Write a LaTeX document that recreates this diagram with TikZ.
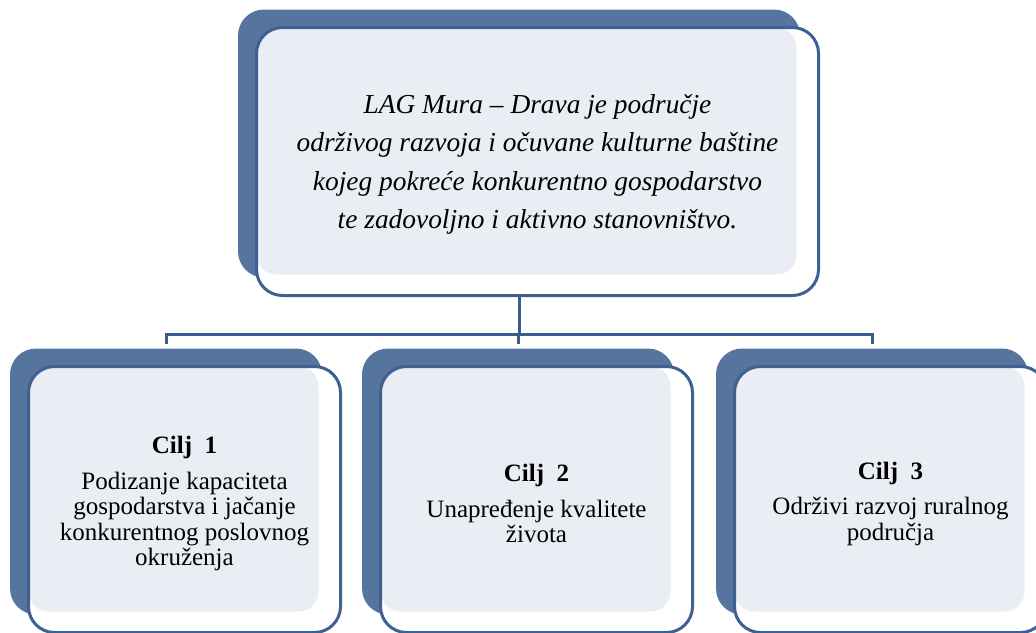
\documentclass[tikz,border=0pt]{standalone}
\usepackage{fontspec}
\setmainfont{Liberation Serif}
\usetikzlibrary{positioning, calc, shadows}
\definecolor{cardshadow}{RGB}{86, 117, 158}
\definecolor{cardline}{RGB}{62, 96, 146}
\definecolor{cardpanel}{RGB}{234, 238, 244}
\definecolor{linkblue}{RGB}{58, 92, 142}

\begin{document}
\begin{tikzpicture}[x=1pt, y=-1pt,
    card/.style={draw=cardline, line width=3pt, fill=white, rounded corners=26pt,
        align=center, inner sep=0pt,
        general shadow={fill=cardshadow, shadow xshift=-18.5pt, shadow yshift=18pt},
        path picture={\fill[cardpanel, rounded corners=20pt]
            (path picture bounding box.north west) rectangle
            ([xshift=-22pt, yshift=21pt]path picture bounding box.south east);}},
    goal/.style={card, minimum width=312pt, minimum height=266pt,
        font=\fontsize{25pt}{25.5pt}\selectfont},
    link/.style={draw=linkblue, line width=3pt}]

        \useasboundingbox (0,0) rectangle (1036,632);
        \clip (0,0) rectangle (1036,632);

        % Vision
        \node[card, minimum width=562pt, minimum height=268pt,
            font=\fontsize{27.4pt}{38.5pt}\selectfont\itshape] (lag) at (537.5,161.5)
            {\rule{0pt}{25pt}LAG Mura -- Drava je područje\\
             održivog razvoja i očuvane kulturne baštine\\
             kojeg pokreće konkurentno gospodarstvo\\
             te zadovoljno i aktivno stanovništvo.};

        % Goal 1
        \node[goal] (cilj1) at (184.5,499.5)
            {\rule{0pt}{26pt}\textbf{Cilj\ \ 1}\\[10pt]
             Podizanje kapaciteta\\ gospodarstva i jačanje\\
             konkurentnog poslovnog\\ okruženja};

        % Goal 2
        \node[goal] (cilj2) at (536.5,499.5)
            {\rule{0pt}{26pt}\textbf{Cilj\ \ 2}\\[10pt]
             Unapređenje kvalitete\\ života};

        % Goal 3
        \node[goal] (cilj3) at (890.5,499.5)
            {\rule{0pt}{26pt}\textbf{Cilj\ \ 3}\\[10pt]
             Održivi razvoj ruralnog\\ područja};

        % Links
        \foreach \goal in {cilj1, cilj2, cilj3}
            \draw[link] ([xshift=-18.5pt]lag.south) -- ++(0pt,-37pt)
                -| ([xshift=-18.5pt, yshift=21pt]\goal.north);

    \end{tikzpicture}
\end{document}
